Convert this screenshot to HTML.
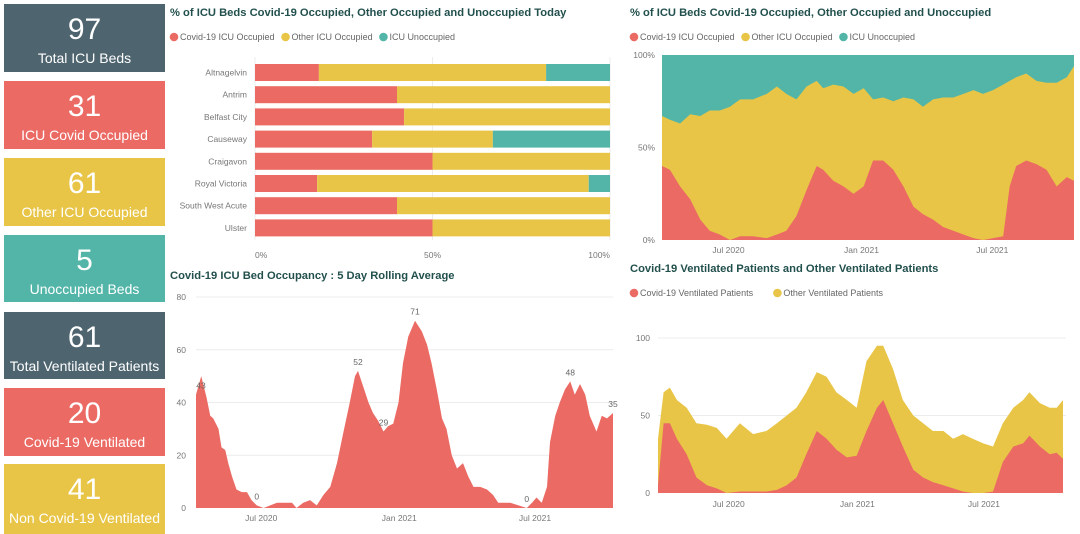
<!DOCTYPE html>
<html><head><meta charset="utf-8"><style>
body{margin:0;width:1080px;height:532px;overflow:hidden;background:#fff;font-family:"Liberation Sans",sans-serif;position:relative}
.card{position:absolute;left:4px;width:161px;color:#fff;text-align:center}
.card .n{position:absolute;left:0;right:0;top:8px;font-size:30px;line-height:36px}
.card .l{position:absolute;left:0;right:0;top:45px;font-size:14px;line-height:18px;white-space:nowrap}
.title{position:absolute;font-weight:bold;font-size:11.2px;color:#22504d;white-space:nowrap}
svg{position:absolute;left:0;top:0}
</style></head><body>
<div class="card" style="top:4px;height:68px;background:#4e6570"><div class="n">97</div><div class="l">Total ICU Beds</div></div>
<div class="card" style="top:81px;height:68px;background:#eb6b64"><div class="n">31</div><div class="l">ICU Covid Occupied</div></div>
<div class="card" style="top:158px;height:68px;background:#e8c547"><div class="n">61</div><div class="l">Other ICU Occupied</div></div>
<div class="card" style="top:235px;height:67px;background:#52b5a8"><div class="n">5</div><div class="l">Unoccupied Beds</div></div>
<div class="card" style="top:312px;height:67px;background:#4e6570"><div class="n">61</div><div class="l">Total Ventilated Patients</div></div>
<div class="card" style="top:388px;height:68px;background:#eb6b64"><div class="n">20</div><div class="l">Covid-19 Ventilated</div></div>
<div class="card" style="top:464px;height:70px;background:#e8c547"><div class="n">41</div><div class="l">Non Covid-19 Ventilated</div></div>

<div class="title" style="left:170px;top:7px">% of ICU Beds Covid-19 Occupied, Other Occupied and Unoccupied Today</div>
<div class="title" style="left:170px;top:270px">Covid-19 ICU Bed Occupancy : 5 Day Rolling Average</div>
<div class="title" style="left:630px;top:7px">% of ICU Beds Covid-19 Occupied, Other Occupied and Unoccupied</div>
<div class="title" style="left:630px;top:263px">Covid-19 Ventilated Patients and Other Ventilated Patients</div>

<svg id="svg" width="1080" height="532" xmlns="http://www.w3.org/2000/svg" font-family="Liberation Sans, sans-serif"></svg>
<script>
// ---- bar chart data
const hospitals=["Altnagelvin","Antrim","Belfast City","Causeway","Craigavon","Royal Victoria","South West Acute","Ulster"];
const covidPctToday=[18,40,42,33,50,17.5,40,50];
const otherPctToday=[64,60,58,34,50,76.5,60,50];
const unoccPctToday=[18,0,0,33,0,6,0,0];
const pctTicks=["0%","50%","100%"];
// ---- rolling average
const rollDays=[0,7,14,19,23,30,34,39,43,48,54,61,68,74,81,90,99,108,116,128,134,143,152,161,170,179,188,196,205,212,216,223,230,236,243,250,256,263,270,276,283,292,301,308,314,321,328,334,341,348,356,363,370,379,388,396,403,410,419,430,441,448,454,461,468,472,479,485,492,499,505,512,519,525,534,541,548,556];
const rollVals=[43,50,42,35,34,30,23,22,17,12,7,6,6,3,1,0,1,2,2,2,0,2,3,1,5,8,17,28,40,50,52,46,40,36,33,29,31,32,40,55,65,71,67,62,55,45,34,30,20,15,17,12,8,8,7,5,2,2,2,1,0,2,4,2,8,25,35,40,45,48,43,47,43,35,29,35,34,36];
const rollTicks=[0,20,40,60,80];
const rollLabelDays=[0,81,216,250,292,441,499,556];
const rollLabelText=["43","0","52","29","71","0","48","35"];
// ---- pct area
const pctDays=[0,11,25,39,53,66,80,94,108,126,145,159,172,186,200,214,223,237,251,265,279,292,306,320,334,348,361,375,389,403,417,431,444,458,472,481,490,504,518,532,546,560,570];
const covidPct=[40,38,29,22,11,5,3,0,2,2,1,3,5,13,27,40,38,32,29,25,29,43,43,38,29,18,14,11,7,5,3,1,0,1,2,29,40,43,41,38,29,34,32];
const occPct=[67,65,63,68,67,70,70,72,76,76,79,83,79,76,83,86,82,84,83,79,82,76,77,75,77,76,72,76,77,77,79,81,79,81,84,86,88,90,86,85,85,88,94];
// ---- ventilated
const ventDays=[0,8,17,27,41,55,70,84,98,117,136,155,170,184,198,212,227,241,255,270,284,298,313,322,336,350,365,379,393,408,422,436,450,465,479,493,508,522,531,546,560,570,579];
const ventCovid=[5,45,45,35,25,10,5,3,0,1,1,1,2,5,10,25,40,35,28,23,24,40,55,60,45,30,15,10,7,5,3,1,0,0,1,20,30,32,37,30,25,26,22];
const ventTotal=[35,65,68,60,55,45,44,42,35,45,38,40,45,50,55,65,78,75,65,60,55,85,95,95,80,60,50,45,40,40,35,38,35,32,30,45,55,60,65,58,55,55,60];
const ventTicks=[0,50,100];

const RED="#eb6b64",YEL="#e8c547",TEAL="#52b5a8",GRID="#ececec",TXT="#777";
const svg=document.getElementById('svg');
function el(tag,attrs,parent){const e=document.createElementNS("http://www.w3.org/2000/svg",tag);for(const k in attrs)e.setAttribute(k,attrs[k]);(parent||svg).appendChild(e);return e;}
function txt(x,y,s,anchor,size,fill){const t=el('text',{x:x,y:y,'text-anchor':anchor||'start','font-size':size||9,fill:fill||TXT});t.textContent=s;return t;}
function legend(x,y,items){let cx=x;items.forEach(it=>{const g=el('g',{});


el('circle',{cx:cx+4,cy:y,r:4.3,fill:it[1]},g);const t=el('text',{x:cx+10,y:y+3.2,'font-size':9,fill:'#666'},g);t.textContent=it[0];cx+=10+it[0].length*4.55+6;});}

// ===== Bar chart
(function(){
const x0=255,x1=610,xs=v=>x0+(x1-x0)*v/100;
legend(170,37,[["Covid-19 ICU Occupied",RED],["Other ICU Occupied",YEL],["ICU Unoccupied",TEAL]]);
[0,50,100].forEach((v,i)=>{el('line',{x1:xs(v),x2:xs(v),y1:57,y2:240,stroke:GRID});const t=txt(xs(v),258,pctTicks[i],i==0?'start':(i==2?'end':'middle'),8.5);});
hospitals.forEach((h,i)=>{const cy=72.5+i*22.2;const t=txt(247,cy+3,h,'end',8.5);

const segs=[[covidPctToday[i],RED],[otherPctToday[i],YEL],[unoccPctToday[i],TEAL]];let acc=0;
segs.forEach(s=>{if(s[0]>0){const r=el('rect',{x:xs(acc),y:cy-8.5,width:xs(acc+s[0])-xs(acc),height:17,fill:s[1]});

}acc+=s[0];});});
})();

// ===== Rolling average area
(function(){
const x0=196,x1=613,y0=508,y1=297,maxD=556;
const xs=d=>x0+(x1-x0)*d/maxD, ys=v=>y0-(y0-y1)*v/80;
rollTicks.forEach(v=>{if(v>0)el('line',{x1:x0,x2:x1,y1:ys(v),y2:ys(v),stroke:GRID});const t=txt(186,ys(v)+3,String(v),'end',8.5);});
let d='M'+xs(rollDays[0])+','+y0;rollDays.forEach((dd,i)=>d+='L'+xs(dd)+','+ys(rollVals[i]));d+='L'+xs(rollDays[rollDays.length-1])+','+y0+'Z';
const p=el('path',{d:d,fill:RED});
[["Jul 2020",87],["Jan 2021",271],["Jul 2021",452]].forEach(a=>{const t=txt(xs(a[1]),521,a[0],'middle',8.5);});
rollLabelDays.forEach((dd,i)=>{const v=rollVals[rollDays.indexOf(dd)];const t=txt(xs(dd)+(i==0?5:0),ys(v)-6,rollLabelText[i],'middle',8.5,'#666');});
})();

// ===== 100% stacked area
(function(){
const x0=662,x1=1074,y0=240,y1=55,maxD=570;
const xs=d=>x0+(x1-x0)*d/maxD, ys=v=>y0-(y0-y1)*v/100;
legend(630,37,[["Covid-19 ICU Occupied",RED],["Other ICU Occupied",YEL],["ICU Unoccupied",TEAL]]);
[[0,"0%"],[50,"50%"],[100,"100%"]].forEach(a=>{const t=txt(655,ys(a[0])+3,a[1],'end',8.5);});
const r=el('rect',{x:x0,y:y1,width:x1-x0,height:y0-y1,fill:TEAL});
function area(vals,fill,name){let d='M'+x0+','+y0;pctDays.forEach((dd,i)=>d+='L'+xs(dd)+','+ys(vals[i]));d+='L'+x1+','+y0+'Z';const p=el('path',{d:d,fill:fill});}
area(occPct,YEL,'other-occupied-area');area(covidPct,RED,'covid-occupied-area');
[["Jul 2020",92],["Jan 2021",276],["Jul 2021",457]].forEach(a=>{const t=txt(xs(a[1]),253,a[0],'middle',8.5);});
})();

// ===== Ventilated stacked area
(function(){
const x0=658,x1=1063,y0=493,y1=338,maxD=579;
const xs=d=>x0+(x1-x0)*d/maxD, ys=v=>y0-(y0-y1)*v/100;
legend(630,293,[["Covid-19 Ventilated Patients",RED],["Other Ventilated Patients",YEL]]);
ventTicks.forEach(v=>{if(v>0)el('line',{x1:x0,x2:x1+3,y1:ys(v),y2:ys(v),stroke:GRID});const t=txt(650,ys(v)+3,String(v),'end',8.5);});
function area(vals,fill,name){let d='M'+x0+','+y0;ventDays.forEach((dd,i)=>d+='L'+xs(dd)+','+ys(vals[i]));d+='L'+x1+','+y0+'Z';const p=el('path',{d:d,fill:fill});}
area(ventTotal,YEL,'other-ventilated-area');area(ventCovid,RED,'covid-ventilated-area');
[["Jul 2020",101],["Jan 2021",285],["Jul 2021",466]].forEach(a=>{const t=txt(xs(a[1]),507,a[0],'middle',8.5);});
})();
</script>
</body></html>
